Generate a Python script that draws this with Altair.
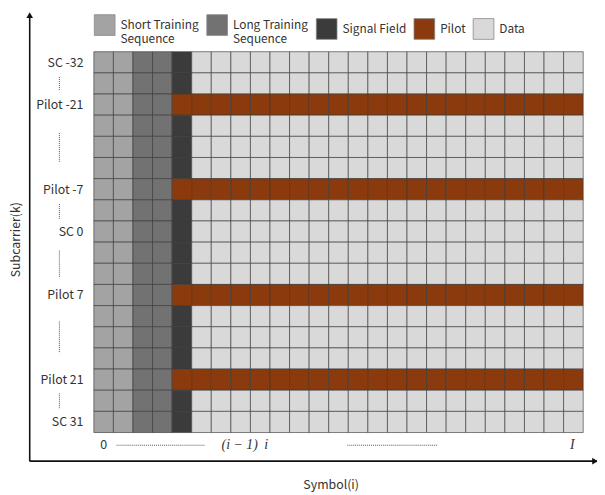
import altair as alt
import pandas as pd

# ---- data -------------------------------------------------------------
n_cols = 25
n_rows = 18
col_kind = (["Short Training Sequence"] * 2 + ["Long Training Sequence"] * 2
            + ["Signal Field"] + ["Data"] * 20)
pilot_rows = [2, 6, 11, 15]
pilot_first_col = 4
row_labels = ["SC -32", "", "Pilot -21", "", "", "", "Pilot -7", "", "SC 0", "",
              "", "Pilot 7", "", "", "", "Pilot 21", "", "SC 31"]
legend_names = ["Short Training Sequence", "Long Training Sequence",
                "Signal Field", "Pilot", "Data"]
legend_colors = ["#a3a3a3", "#727272", "#3b3b3b", "#8a3a0c", "#d9d9d9"]

# vertical dotted "..." marks between row labels (row units)
dots_v_start = [1.2, 3.85, 7.2, 9.4, 12.75, 16.15]
dots_v_end = [1.85, 5.25, 7.9, 10.65, 14.25, 16.9]
dots_v_col = -1.76
# horizontal dotted marks under the grid (column units)
dots_h_start = [1.16, 12.95]
dots_h_end = [5.7, 17.55]
bottom_row = 18.6
sans_labels = ["0"]
sans_pos = [0.5]
math_labels = ["(i − 1)", "i", "I"]
math_pos = [7.45, 8.8, 24.45]

# ---- tables -----------------------------------------------------------
cells = []
for r in range(n_rows):
    for c in range(n_cols):
        kind = "Pilot" if (r in pilot_rows and c >= pilot_first_col) else col_kind[c]
        cells.append({"c0": c, "c1": c + 1, "r0": r, "r1": r + 1, "kind": kind})
cells = pd.DataFrame(cells)
dots_v = pd.DataFrame({"x": [dots_v_col] * len(dots_v_start), "y0": dots_v_start, "y1": dots_v_end})
dots_h = pd.DataFrame({"x0": dots_h_start, "x1": dots_h_end, "y": [bottom_row] * len(dots_h_start)})
sans_df = pd.DataFrame({"x": sans_pos, "y": [bottom_row] * len(sans_pos), "t": sans_labels})
math_df = pd.DataFrame({"x": math_pos, "y": [bottom_row] * len(math_pos), "t": math_labels})

FONT = "Noto Sans CJK KR"
TXT = "#333333"
xs = alt.Scale(domain=[0, n_cols], nice=False, zero=False)
ys = alt.Scale(domain=[0, n_rows], nice=False, zero=False, reverse=True)

label_arr = "[" + ",".join("'" + s + "'" for s in row_labels) + "]"
label_vals = [i + 0.5 for i, s in enumerate(row_labels) if s]

legend_kw = dict(orient="none", legendX=0, legendY=-38,
                 direction="horizontal", columns=5, columnPadding=5,
                 symbolType="square", symbolSize=441,
                 symbolStrokeColor="#888888", symbolStrokeWidth=0.8,
                 symbolOpacity=1,
                 labelExpr="indexof(datum.label, ' Sequence') > 0 ? "
                           "[replace(datum.label, ' Sequence', ''), 'Sequence'] : datum.label",
                 labelFont=FONT, labelFontSize=12, labelColor=TXT,
                 labelOffset=5, labelLimit=200, title=None, padding=0)

grid = alt.Chart(cells).mark_rect(stroke="#3a3a3a", strokeWidth=0.8, strokeOpacity=0.8).encode(
    x=alt.X("c0:Q", scale=xs, axis=alt.Axis(labels=False, ticks=False, domain=False, grid=False,
                                           title="Symbol(i)", titleX=240, titleY=53,
                                           titleFont=FONT, titleFontSize=12.5,
                                           titleFontWeight="normal", titleColor=TXT,
                                           titleBaseline="middle")),
    x2="c1:Q",
    y=alt.Y("r0:Q", scale=ys, axis=alt.Axis(values=label_vals,
                                           labelExpr=label_arr + "[floor(datum.value)]",
                                           ticks=False, domain=False, grid=False,
                                           labelPadding=11, labelFont=FONT, labelFontSize=12.5,
                                           labelColor=TXT, labelOverlap=False, labelFlush=False,
                                           title="Subcarrier(k)", titleX=-79, titleY=190,
                                           titleAngle=270, titleAlign="center",
                                           titleBaseline="middle", titleFont=FONT,
                                           titleFontSize=12.5, titleFontWeight="normal",
                                           titleColor=TXT)),
    y2="r1:Q",
    color=alt.Color("kind:N",
                    scale=alt.Scale(domain=legend_names, range=legend_colors),
                    legend=alt.Legend(**legend_kw)),
)

vdots = alt.Chart(dots_v).mark_rule(strokeDash=[1, 1], color="#555555", strokeWidth=1).encode(
    x=alt.X("x:Q", scale=xs), y=alt.Y("y0:Q", scale=ys), y2="y1:Q")
hdots = alt.Chart(dots_h).mark_rule(strokeDash=[1, 1], color="#555555", strokeWidth=1).encode(
    x=alt.X("x0:Q", scale=xs), x2="x1:Q", y=alt.Y("y:Q", scale=ys))
sans_txt = alt.Chart(sans_df).mark_text(font=FONT, fontSize=12.5, color=TXT).encode(
    x=alt.X("x:Q", scale=xs), y=alt.Y("y:Q", scale=ys), text="t:N")
math_txt = alt.Chart(math_df).mark_text(font="Liberation Serif", fontStyle="italic",
                                        fontSize=14, color=TXT).encode(
    x=alt.X("x:Q", scale=xs), y=alt.Y("y:Q", scale=ys), text="t:N")

# frame arrows (decoration)
frame_v = alt.Chart(pd.DataFrame({"a": [0]})).mark_rule(color="#111111", strokeWidth=1.6).encode(
    x=alt.value(-65), y=alt.value(-36), y2=alt.value(415))
frame_h = alt.Chart(pd.DataFrame({"a": [0]})).mark_rule(color="#111111", strokeWidth=1.6).encode(
    x=alt.value(-65), x2=alt.value(512), y=alt.value(415))
arrow_up = alt.Chart(pd.DataFrame({"a": [0]})).mark_point(shape="triangle-up", filled=True,
                                                         color="#111111", size=45, opacity=1).encode(
    x=alt.value(-65), y=alt.value(-37))
arrow_right = alt.Chart(pd.DataFrame({"a": [0]})).mark_point(shape="triangle-right", filled=True,
                                                            color="#111111", size=45, opacity=1).encode(
    x=alt.value(508), y=alt.value(415))

chart = alt.layer(grid, vdots, hdots, sans_txt, math_txt, frame_v, frame_h, arrow_up, arrow_right).properties(
    width=496, height=386,
    padding={"left": 87, "top": 41, "right": 14, "bottom": 60},
    autosize=alt.AutoSizeParams(type="none"),
    background="white",
).configure_view(stroke=None)

chart.save("out.html", embed_options={"renderer": "svg", "actions": False})
